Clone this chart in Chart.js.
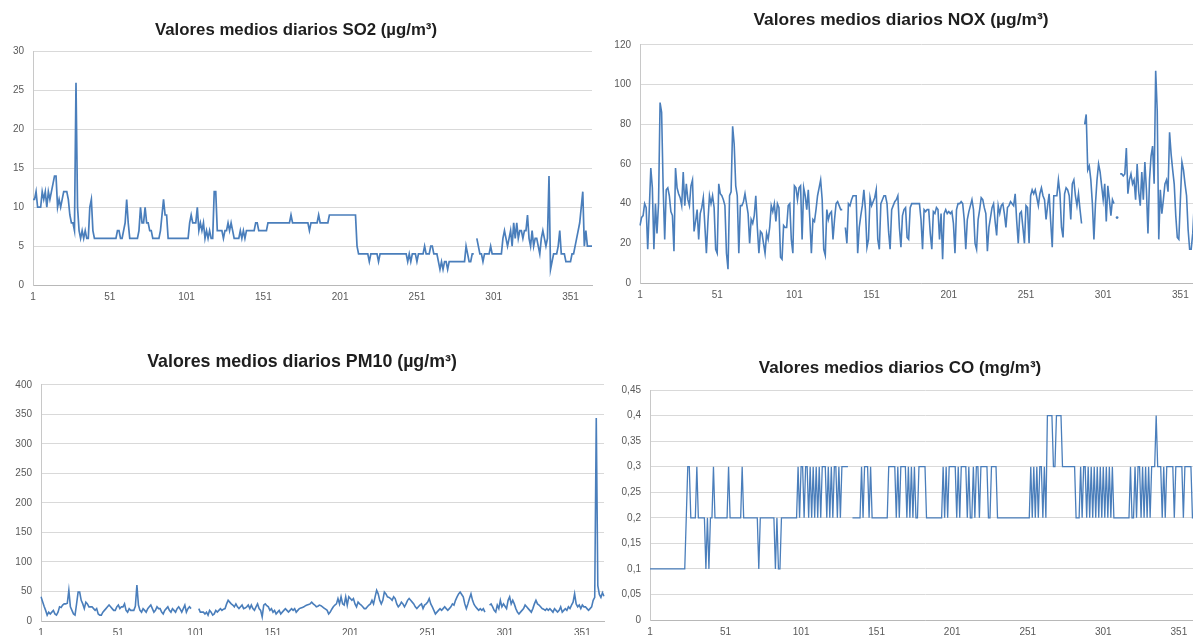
<!DOCTYPE html>
<html><head><meta charset="utf-8">
<script src="https://cdn.jsdelivr.net/npm/chart.js@4.4.1/dist/chart.umd.min.js"></script>
<style>
html,body{margin:0;padding:0;width:1193px;height:635px;overflow:hidden;background:#fff;}
canvas{position:absolute;}
</style></head><body>
<canvas id="cSO2" width="612" height="310" style="left:0px;top:0px"></canvas>
<canvas id="cNOX" width="628" height="308" style="left:600px;top:0px"></canvas>
<canvas id="cPM10" width="644" height="316" style="left:0px;top:330px"></canvas>
<canvas id="cCO" width="644" height="315" style="left:600px;top:330px"></canvas>
<script>
// categories: day of year
const days = Array.from({length: 365}, (_, i) => String(i + 1));
const xTickLabels = ['1','51','101','151','201','251','301','351'];

const titles = {
  so2: 'Valores medios diarios SO2 (\u00b5g/m\u00b3)',
  nox: 'Valores medios diarios NOX (\u00b5g/m\u00b3)',
  pm10: 'Valores medios diarios PM10 (\u00b5g/m\u00b3)',
  co: 'Valores medios diarios CO (mg/m\u00b3)'
};

const so2YTicks = [0,5,10,15,20,25,30];
const so2YLabels = ['0','5','10','15','20','25','30'];
const noxYTicks = [0,20,40,60,80,100,120];
const noxYLabels = ['0','20','40','60','80','100','120'];
const pm10YTicks = [0,50,100,150,200,250,300,350,400];
const pm10YLabels = ['0','50','100','150','200','250','300','350','400'];
const coYTicks = [0,0.05,0.1,0.15,0.2,0.25,0.3,0.35,0.4,0.45];
const coYLabels = ['0','0,05','0,1','0,15','0,2','0,25','0,3','0,35','0,4','0,45'];

const so2Values = [
11,11,12,10,10,10,12,11,12,10,
12,11,12,13,14,14,10,11,10,11,
12,12,12,11,9,8,8,7,26,10,
7,6,7,6,7,6,6,10,11,7,
6,6,6,6,6,6,6,6,6,6,
6,6,6,6,6,7,7,6,6,7,
8,11,8,6,6,6,6,6,6,7,
10,8,8,10,8,8,7,7,6,6,
6,6,6,7,9,11,9,9,6,6,
6,6,6,6,6,6,6,6,6,6,
6,6,8,9,8,8,8,10,7,8,
7,8,6,7,6,7,6,6,12,12,
7,7,7,7,6,7,7,8,7,8,
7,6,6,6,6,7,6,7,6,7,
7,7,7,7,7,8,8,7,7,7,
7,7,7,8,8,8,8,8,8,8,
8,8,8,8,8,8,8,8,9,8,
8,8,8,8,8,8,8,8,8,8,
7,8,8,8,8,8,9,8,8,8,
8,8,8,9,9,9,9,9,9,9,
9,9,9,9,9,9,9,9,9,9,
9,5,4,4,4,4,4,4,4,3,
4,4,4,4,4,3,4,4,4,4,
4,4,4,4,4,4,4,4,4,4,
4,4,4,4,3,4,3,4,4,4,
3,4,4,4,4,5,4,4,4,5,
5,4,4,4,3,2,3,2,3,3,
2,3,3,3,3,3,3,3,3,3,
3,3,5,4,3,3,4,4,null,6,
5,4,4,3,4,4,4,4,5,4,
4,4,4,4,4,4,6,7,6,5,
6,7,5,8,6,8,6,7,7,6,
7,7,9,6,5,7,5,6,6,5,
4,6,7,6,5,6,14,2,3,4,
4,4,5,7,4,4,4,3,3,3,
3,4,4,5,6,7,8,10,12,5,
7,5,5,5,5
];

const noxValues = [
29,33,34,40,38,17,37,58,48,17,
40,25,40,91,86,48,22,47,48,44,
36,34,16,58,48,45,43,39,56,39,
50,42,39,49,52,26,31,37,22,35,
38,43,29,15,31,44,40,44,38,17,
15,50,45,44,42,39,15,7,44,46,
79,70,49,44,15,39,39,41,45,40,
35,20,32,30,34,44,28,15,26,25,
20,15,25,22,28,39,36,40,31,40,
38,13,12,29,28,28,39,40,22,15,
49,48,42,48,49,22,48,44,37,47,
32,15,32,31,37,44,48,52,42,17,
14,37,32,35,36,22,32,40,41,39,
37,37,null,28,20,40,39,42,44,44,
44,15,28,34,39,47,37,18,22,43,
39,41,43,47,22,17,40,42,44,44,
40,26,17,37,39,41,42,44,28,18,
34,37,38,23,22,38,40,40,40,40,
40,40,32,17,37,36,37,37,25,17,
36,35,38,37,22,35,12,35,37,35,
36,35,36,30,15,37,40,40,41,40,
32,17,32,36,39,42,37,20,17,32,
37,43,42,38,35,16,28,33,38,40,
31,24,39,35,39,40,35,28,38,39,
41,40,39,45,31,20,35,36,28,20,
39,38,20,44,47,45,47,43,39,45,
48,44,42,32,39,45,31,18,44,44,
44,52,45,28,23,45,48,47,44,32,
50,52,44,39,45,37,30,null,80,85,
57,59,52,40,22,40,52,60,56,49,
42,50,31,49,42,34,42,40,null,33,
null,55,55,54,55,68,45,52,55,50,
52,42,60,46,39,56,42,61,47,25,
52,64,69,50,107,87,22,47,35,42,
50,52,46,76,65,57,50,34,23,22,
42,61,57,50,44,27,17,17,25,40,
45,38,30,22,35
];

const pm10Values = [
41,33,25,18,10,15,12,15,18,12,
10,15,24,23,27,29,29,30,52,24,
18,12,10,29,49,49,35,29,21,32,
29,24,24,24,21,18,21,12,10,10,
15,18,21,24,27,24,21,18,18,24,
27,21,24,24,29,18,15,21,18,18,
18,25,61,27,18,15,21,18,15,21,
24,27,21,15,18,24,21,21,15,12,
18,21,24,18,15,21,18,15,21,24,
20,15,21,27,15,21,24,21,null,null,
null,null,21,15,15,15,12,15,10,18,
15,10,12,18,15,18,21,18,20,21,
29,35,32,29,27,24,29,24,21,24,
27,21,22,24,27,21,27,21,18,24,
29,21,18,7,27,29,26,24,18,21,
15,18,12,15,18,12,15,18,21,18,
15,18,21,18,21,15,18,21,22,23,
24,26,27,28,29,32,29,27,24,25,
27,26,24,22,20,18,12,15,20,24,
27,29,38,29,41,29,27,41,27,41,
38,35,38,29,24,32,29,27,24,21,
21,24,27,29,35,29,41,52,46,35,
29,35,49,46,41,40,38,35,41,38,
29,24,27,32,29,24,29,35,38,35,
32,29,24,21,24,27,29,21,27,29,
32,38,29,24,18,12,15,18,21,18,
21,24,21,18,21,24,29,27,35,41,
46,49,45,41,29,21,29,38,46,35,
28,24,21,18,21,18,21,15,null,null,
27,29,24,18,15,27,21,35,24,29,
25,21,35,41,29,35,29,21,15,12,
15,18,21,27,24,21,18,15,21,29,
35,29,27,24,21,20,18,21,18,21,
18,15,21,18,15,18,24,15,18,21,
18,24,21,27,32,46,29,24,27,21,
27,24,24,21,18,21,24,35,40,344,
60,45,40,48,42
];

const coValues = [
0.1,0.1,0.1,0.1,0.1,0.1,0.1,0.1,0.1,0.1,
0.1,0.1,0.1,0.1,0.1,0.1,0.1,0.1,0.1,0.1,
0.1,0.1,0.1,0.1,0.2,0.3,0.3,0.2,0.2,0.2,
0.2,0.3,0.2,0.2,0.2,0.2,0.2,0.1,0.2,0.1,
0.2,0.2,0.3,0.2,0.2,0.2,0.2,0.2,0.2,0.2,
0.2,0.2,0.3,0.2,0.2,0.2,0.2,0.2,0.2,0.2,
0.2,0.3,0.2,0.2,0.2,0.2,0.2,0.2,0.2,0.2,
0.2,0.2,0.1,0.2,0.2,0.2,0.2,0.2,0.2,0.2,
0.2,0.2,0.2,0.1,0.2,0.1,0.1,0.2,0.2,0.2,
0.2,0.2,0.2,0.2,0.2,0.2,0.2,0.2,0.3,0.2,
0.3,0.3,0.2,0.3,0.3,0.2,0.3,0.2,0.3,0.2,
0.3,0.2,0.3,0.2,0.3,0.3,0.3,0.2,0.3,0.2,
0.3,0.2,0.3,0.3,0.2,0.3,0.2,0.3,0.3,0.3,
0.3,0.3,null,null,0.2,0.2,0.2,0.2,0.2,0.2,
0.3,0.2,0.3,0.3,0.3,0.2,0.3,0.2,0.2,0.2,
0.2,0.2,0.2,0.2,0.2,0.2,0.2,0.2,0.3,0.3,
0.3,0.3,0.3,0.2,0.3,0.2,0.3,0.3,0.3,0.3,
0.2,0.3,0.2,0.3,0.2,0.3,0.2,0.2,0.3,0.3,
0.3,0.3,0.3,0.2,0.2,0.2,0.2,0.2,0.2,0.2,
0.2,0.2,0.2,0.2,0.3,0.2,0.3,0.2,0.3,0.3,
0.3,0.3,0.3,0.2,0.3,0.2,0.3,0.3,0.3,0.3,
0.2,0.3,0.2,0.2,0.3,0.2,0.3,0.3,0.2,0.3,
0.3,0.3,0.3,0.3,0.2,0.2,0.3,0.3,0.3,0.3,
0.2,0.2,0.2,0.2,0.2,0.2,0.2,0.2,0.2,0.2,
0.2,0.2,0.2,0.2,0.2,0.2,0.2,0.2,0.2,0.2,
0.2,0.2,0.3,0.2,0.3,0.2,0.3,0.2,0.3,0.3,
0.2,0.3,0.2,0.4,0.4,0.4,0.4,0.3,0.3,0.4,
0.4,0.4,0.4,0.3,0.3,0.3,0.3,0.3,0.3,0.3,
0.3,0.3,0.2,0.2,0.2,0.3,0.2,0.3,0.3,0.2,
0.3,0.2,0.3,0.2,0.3,0.2,0.3,0.2,0.3,0.2,
0.3,0.2,0.3,0.2,0.3,0.2,0.3,0.2,0.2,0.2,
0.2,0.2,0.2,0.2,0.2,0.2,0.2,0.2,0.3,0.2,
0.2,0.3,0.2,0.3,0.3,0.2,0.3,0.2,0.3,0.2,
0.3,0.2,0.3,0.3,0.3,0.4,0.3,0.3,0.3,0.2,
0.3,0.2,0.3,0.3,0.3,0.3,0.3,0.2,0.3,0.3,
0.3,0.3,0.3,0.2,0.3,0.3,0.3,0.3,0.3,0.2,
0.2,0.2,0.2,0.2,0.2
];

const LINE = '#4a7ebb';
const TICK_FONT = {family: "'Liberation Sans', Arial, sans-serif", size: 10};
const TICK_COLOR = '#595959';

function isolatedRadius(ctx) {
  const d = ctx.dataset.data, i = ctx.dataIndex;
  return (d[i] != null && d[i - 1] == null && d[i + 1] == null) ? 1.4 : 0;
}

function makeChart(id, title, titleSize, values, yTicks, yLabels, yWidth, padRight, titlePad, lw) {
  new Chart(document.getElementById(id), {
    type: 'line',
    data: {
      labels: days,
      datasets: [{
        data: values,
        borderColor: LINE,
        backgroundColor: LINE,
        borderWidth: lw,
        pointRadius: isolatedRadius,
        pointBorderWidth: 0,
        pointHoverRadius: 0,
        tension: 0,
        spanGaps: false,
        fill: false
      }]
    },
    options: {
      responsive: false,
      animation: false,
      layout: {padding: {left: 0, right: padRight, top: 0, bottom: 0}},
      plugins: {
        legend: {display: false},
        tooltip: {enabled: false},
        title: {
          display: true,
          text: title,
          color: '#1e1e1e',
          font: {family: "'Liberation Sans', Arial, sans-serif", size: titleSize, weight: 'bold', lineHeight: 1.2},
          padding: titlePad
        }
      },
      scales: {
        x: {
          type: 'category',
          grid: {display: false, drawTicks: false},
          border: {display: true, color: '#b8b8b8', width: 1},
          ticks: {
            autoSkip: false, maxRotation: 0, minRotation: 0, padding: 6,
            font: TICK_FONT, color: TICK_COLOR,
            callback: function (v) {
              const l = this.getLabelForValue(v);
              return xTickLabels.includes(l) ? l : null;
            }
          },
          afterFit: s => { s.height = 25; }
        },
        y: {
          min: yTicks[0],
          max: yTicks[yTicks.length - 1],
          afterBuildTicks: s => { s.ticks = yTicks.map(v => ({value: v})); },
          grid: {color: '#d9d9d9', lineWidth: 1, drawTicks: false},
          border: {display: true, color: '#c8c8c8', width: 1},
          ticks: {
            padding: 9, font: TICK_FONT, color: TICK_COLOR,
            callback: (v, i) => yLabels[i]
          },
          afterFit: s => { s.width = yWidth; }
        }
      }
    }
  });
}

makeChart('cSO2', titles.so2, 16.8, so2Values, so2YTicks, so2YLabels, 33, 20, {top: 20, bottom: 11.5}, 1.7);
makeChart('cNOX', titles.nox, 17.4, noxValues, noxYTicks, noxYLabels, 40, 26, {top: 9.5, bottom: 14.6}, 1.6);
makeChart('cPM10', titles.pm10, 17.8, pm10Values, pm10YTicks, pm10YLabels, 41, 40, {top: 21.3, bottom: 12.3}, 1.6);
makeChart('cCO', titles.co, 17, coValues, coYTicks, coYLabels, 50, 44, {top: 27.8, bottom: 11.8}, 1.3);
</script>
</body></html>
